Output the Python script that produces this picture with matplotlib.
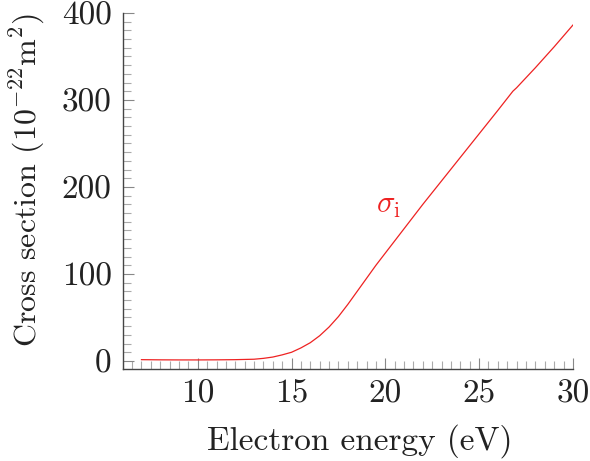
import matplotlib
matplotlib.use("Agg")
import matplotlib.pyplot as plt
from matplotlib.ticker import MultipleLocator

energy = [7, 8, 9, 10, 11, 12, 13, 13.5, 14, 14.5, 15, 15.5, 16, 16.5, 17, 17.5,
          18, 18.5, 19, 19.5, 20, 20.5, 21, 21.5, 22, 23, 24, 25, 26, 26.8, 27, 28, 29, 30]
sigma_i = [1.5, 1.3, 1.2, 1.2, 1.3, 1.5, 2.0, 3.0, 4.5, 7.0, 10, 15, 21, 29, 39, 51,
           65, 80, 95, 110, 124, 138, 152, 166, 180, 207, 234, 261, 288, 310, 314, 337, 361, 386]
xticks = [10, 15, 20, 25, 30]
yticks = [0, 100, 200, 300, 400]

plt.rcParams['font.family'] = 'serif'
plt.rcParams['font.serif'] = ['cmr10']
plt.rcParams['mathtext.fontset'] = 'cm'
plt.rcParams['axes.unicode_minus'] = False
plt.rcParams['axes.formatter.use_mathtext'] = True

fig = plt.figure(figsize=(5.9, 4.61), dpi=100)
ax = fig.add_axes([0.208, 0.2, 0.763, 0.772])

red = '#ee2222'
ax.plot(energy, sigma_i, color=red, lw=0.9)
ax.text(19.5, 178, r'$\sigma_{\mathrm{i}}$', color=red, fontsize=22, ha='left', va='center')

ax.set_xlim(6, 30)
ax.set_ylim(-9, 400)
ax.set_xticks(xticks)
ax.set_yticks(yticks)
ax.set_xticklabels([str(v) for v in xticks])
ax.set_yticklabels([str(v) for v in yticks])
ax.xaxis.set_minor_locator(MultipleLocator(0.5))
ax.yaxis.set_minor_locator(MultipleLocator(10))

for s in ['top', 'right']:
    ax.spines[s].set_visible(False)
for s in ['left', 'bottom']:
    ax.spines[s].set_color('#444444')
    ax.spines[s].set_linewidth(1.0)

ax.tick_params(which='major', direction='in', length=8, width=0.8, color='#888888',
               labelsize=24, pad=8, labelcolor='#222222')
ax.tick_params(which='minor', direction='in', length=5.5, width=0.8, color='#aaaaaa')

ax.set_xlabel('Electron energy (eV)', fontsize=24, color='#222222')
ax.set_ylabel(r'Cross section ($10^{-22}\mathrm{m}^2$)', fontsize=23, color='#222222')
ax.xaxis.set_label_coords(0.527, -0.155)
ax.yaxis.set_label_coords(-0.168, 0.531)

fig.savefig('out.png', dpi=100)
